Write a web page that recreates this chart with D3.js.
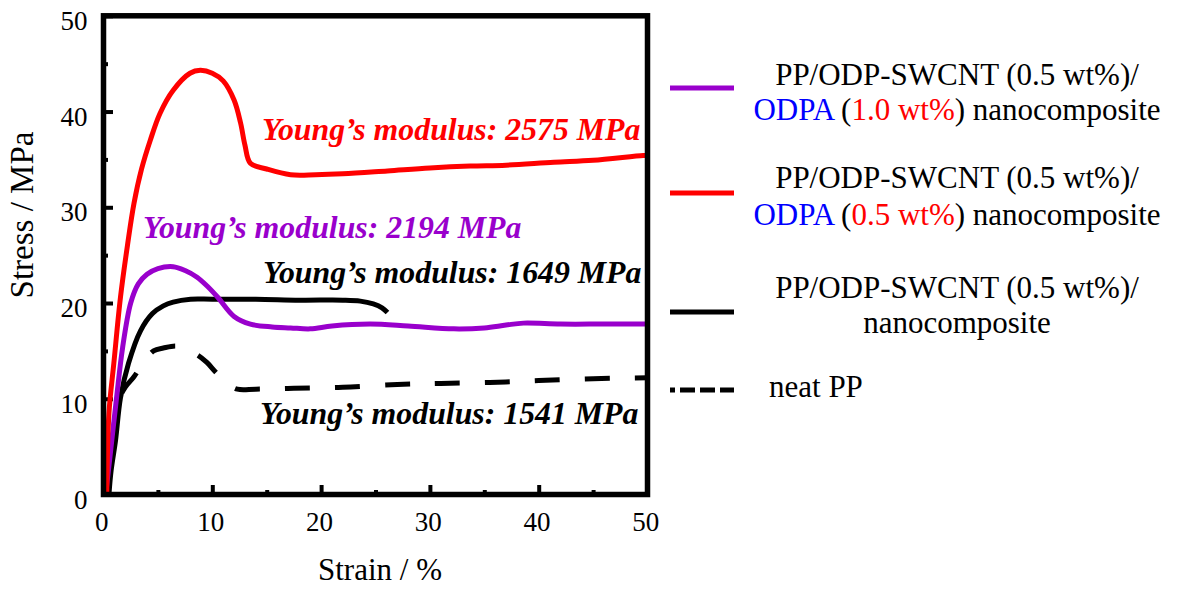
<!DOCTYPE html>
<html>
<head>
<meta charset="utf-8">
<script src="https://cdn.jsdelivr.net/npm/d3@7"></script>
<style>
  html, body { margin: 0; padding: 0; background: #ffffff; }
  svg { display: block; }
  text { font-family: "Liberation Serif", "Times New Roman", serif; }
</style>
</head>
<body>
<svg id="chart" width="1181" height="590"></svg>
<script>
// Tensile stress–strain curves, [strain %, stress MPa]
const odpa10Curve = [
  [0.2, 0], [0.6, 4.0], [1.2, 10.1], [1.75, 15.3], [2.5, 20.0], [3.2, 22.0],
  [4.0, 23.0], [5.0, 23.6], [6.4, 23.8], [7.5, 23.4], [8.6, 22.7], [9.5, 21.8],
  [10.5, 20.6], [12.0, 18.6], [13.5, 17.8], [15.5, 17.5], [17.2, 17.4], [19.0, 17.3], [21.0, 17.6],
  [24.5, 17.8], [28.0, 17.6], [32.2, 17.3], [35.0, 17.4], [37.0, 17.7], [38.6, 17.9],
  [42.0, 17.8], [46.0, 17.8], [50.0, 17.8]
];
const odpa05Curve = [
  [0.3, 0], [0.5, 8.5], [0.95, 13.7], [1.56, 20.6], [2.2, 26.0], [2.8, 30.4],
  [3.5, 34.0], [4.3, 37.0], [5.19, 39.8], [6.39, 42.2], [7.95, 44.0], [8.9, 44.3],
  [10.0, 44.0], [11.0, 43.2], [12.0, 41.2], [12.6, 38.8], [13.0, 36.5], [13.5, 34.6],
  [15.0, 34.0], [17.2, 33.4], [19.5, 33.4], [22.0, 33.5], [26.1, 33.8], [30.0, 34.1],
  [33.7, 34.3], [37.0, 34.4], [41.4, 34.7], [45.0, 34.9], [49.6, 35.4], [50.0, 35.4]
];
const swcntCurve = [
  [0.5, 0], [0.7, 2.5], [1.1, 5.6], [1.56, 10.1], [2.3, 13.7], [3.4, 17.1],
  [4.5, 18.9], [5.5, 19.7], [6.4, 20.1], [8.0, 20.4], [10.0, 20.4], [14.0, 20.4],
  [18.0, 20.3], [22.0, 20.3], [23.6, 20.2], [24.8, 19.9], [25.6, 19.5], [26.1, 19.0]
];
const neatPPCurve = [
  [0.3, 0], [0.7, 4.0], [1.3, 9.5], [2.0, 11.2], [2.8, 12.3], [3.8, 14.0],
  [4.6, 15.0], [5.5, 15.3], [6.8, 15.5], [7.8, 15.0], [8.6, 14.6], [9.5, 13.8],
  [10.3, 12.8], [11.5, 11.5], [12.3, 11.0], [14.0, 11.0], [17.5, 11.1], [22.0, 11.2],
  [27.0, 11.5], [31.0, 11.6], [35.5, 11.7], [40.0, 11.9], [45.0, 12.1], [50.0, 12.2]
];

// Young's modulus annotations (MPa)
const modulusValues = [2575, 2194, 1649, 1541];

// Axis ticks
const xMajorTicks = [0, 10, 20, 30, 40, 50];
const xMinorTicks = [5, 15, 25, 35, 45];
const yMajorTicks = [0, 10, 20, 30, 40, 50];
const yMinorTicks = [5, 15, 25, 35, 45];
const xTitle = "Strain / %";
const yTitle = "Stress / MPa";

// Legend rows: each line is a list of [text, role] segments
const legendRows = [
  [[["PP/ODP-SWCNT (0.5 wt%)/", "plain"]],
   [["ODPA", "chem"], [" (", "plain"], ["1.0 wt%", "conc"], [") nanocomposite", "plain"]]],
  [[["PP/ODP-SWCNT (0.5 wt%)/", "plain"]],
   [["ODPA", "chem"], [" (", "plain"], ["0.5 wt%", "conc"], [") nanocomposite", "plain"]]],
  [[["PP/ODP-SWCNT (0.5 wt%)/", "plain"]],
   [["nanocomposite", "plain"]]],
  [[["neat PP", "plain"]]]
];

// ---- styling & layout ----
const roleColor = { plain: "#000000", chem: "#0000ff", conc: "#ff0000" };
const purple = "#9900cc";
const series = [
  { data: neatPPCurve, color: "#000000", dashed: true },
  { data: swcntCurve, color: "#000000", dashed: false },
  { data: odpa10Curve, color: purple, dashed: false },
  { data: odpa05Curve, color: "#ff0000", dashed: false }
];

const svg = d3.select("#chart");
const x = d3.scaleLinear().domain([0, 50]).range([103.5, 647.5]);
const y = d3.scaleLinear().domain([0, 50]).range([494.5, 15.8]);

// Minor ticks (short, inward)
svg.append("g").attr("transform", `translate(0,${y(0)})`)
  .call(d3.axisBottom(x).tickValues(xMinorTicks).tickSize(-4.5).tickFormat(""))
  .call(g => g.select(".domain").remove())
  .call(g => g.selectAll("line").attr("stroke", "#000").attr("stroke-width", 4));
svg.append("g").attr("transform", `translate(${x(0)},0)`)
  .call(d3.axisLeft(y).tickValues(yMinorTicks).tickSize(-4.5).tickFormat(""))
  .call(g => g.select(".domain").remove())
  .call(g => g.selectAll("line").attr("stroke", "#000").attr("stroke-width", 4));

// Major ticks with labels
svg.append("g").attr("transform", `translate(0,${y(0)})`)
  .call(d3.axisBottom(x).tickValues(xMajorTicks).tickSize(-9.5).tickPadding(17).tickFormat(d3.format("d")))
  .call(g => g.select(".domain").remove())
  .call(g => g.selectAll("line").attr("stroke", "#000").attr("stroke-width", 4))
  .call(g => g.selectAll("text").attr("font-size", 27).attr("fill", "#000")
    .attr("font-family", "Liberation Serif, serif").attr("dx", "-0.08em"));
svg.append("g").attr("transform", `translate(${x(0)},0)`)
  .call(d3.axisLeft(y).tickValues(yMajorTicks).tickSize(-9.5).tickPadding(16).tickFormat(d3.format("d")))
  .call(g => g.select(".domain").remove())
  .call(g => g.selectAll("line").attr("stroke", "#000").attr("stroke-width", 4))
  .call(g => g.selectAll("text").attr("font-size", 27).attr("fill", "#000")
    .attr("font-family", "Liberation Serif, serif").attr("dy", "0.5em"));

// Curves
const line = d3.line().x(d => x(d[0])).y(d => y(d[1])).curve(d3.curveCatmullRom.alpha(0.5));
series.forEach(s => {
  const p = svg.append("path")
    .attr("d", line(s.data))
    .attr("fill", "none")
    .attr("stroke", s.color)
    .attr("stroke-width", 5)
    .attr("stroke-linejoin", "round");
  if (s.dashed) {
    // align the dash pattern so one dash begins where the plateau starts
    const node = p.node();
    const total = node.getTotalLength();
    let lo = 0, hi = total;
    const target = 235;
    for (let i = 0; i < 40; i++) {
      const mid = (lo + hi) / 2;
      if (node.getPointAtLength(mid).x < target) lo = mid; else hi = mid;
    }
    const off = (50 - (lo % 50)) % 50;
    p.attr("stroke-dasharray", "25,25").attr("stroke-dashoffset", off);
  }
});

// Frame
svg.append("rect")
  .attr("x", x(0)).attr("y", y(50))
  .attr("width", x(50) - x(0)).attr("height", y(0) - y(50))
  .attr("fill", "none").attr("stroke", "#000").attr("stroke-width", 5.5);

// Axis titles
svg.append("text").attr("x", 380).attr("y", 580).attr("text-anchor", "middle")
  .attr("font-size", 31).attr("fill", "#000").text(xTitle);
svg.append("text").attr("transform", "translate(33,215) rotate(-90)")
  .attr("text-anchor", "middle").attr("font-size", 33).attr("fill", "#000").text(yTitle);

// Modulus annotations
const annotations = [
  { v: modulusValues[0], color: "#ff0000", px: 262, py: 140 },
  { v: modulusValues[1], color: purple, px: 143, py: 238 },
  { v: modulusValues[2], color: "#000000", px: 263, py: 283 },
  { v: modulusValues[3], color: "#000000", px: 260, py: 424 }
];
annotations.forEach(a => {
  svg.append("text").attr("x", a.px).attr("y", a.py)
    .attr("font-size", 31.8).attr("font-weight", "bold").attr("font-style", "italic")
    .attr("fill", a.color).text(`Young\u2019s modulus: ${a.v} MPa`);
});

// Legend
const legendSwatchY = [88, 193, 312, 390];
const legendBaselines = [[85, 120], [188, 225], [298, 333], [397]];
const legendOrder = [2, 3, 1, 0]; // series index for each legend row
legendRows.forEach((rows, i) => {
  const s = series[legendOrder[i]];
  const sw = svg.append("line")
    .attr("x1", 670).attr("x2", 734)
    .attr("y1", legendSwatchY[i]).attr("y2", legendSwatchY[i])
    .attr("stroke", s.color).attr("stroke-width", 5);
  if (s.dashed) sw.attr("stroke-dasharray", "5,5,15,5,15,5,15,5");
  rows.forEach((segs, j) => {
    const single = rows.length === 1;
    const t = svg.append("text")
      .attr("x", single ? 769 : 957)
      .attr("y", legendBaselines[i][j])
      .attr("text-anchor", single ? "start" : "middle")
      .attr("font-size", 31)
      .attr("xml:space", "preserve");
    segs.forEach(([txt, role]) => {
      t.append("tspan").attr("fill", roleColor[role]).text(txt);
    });
  });
});
</script>
</body>
</html>
